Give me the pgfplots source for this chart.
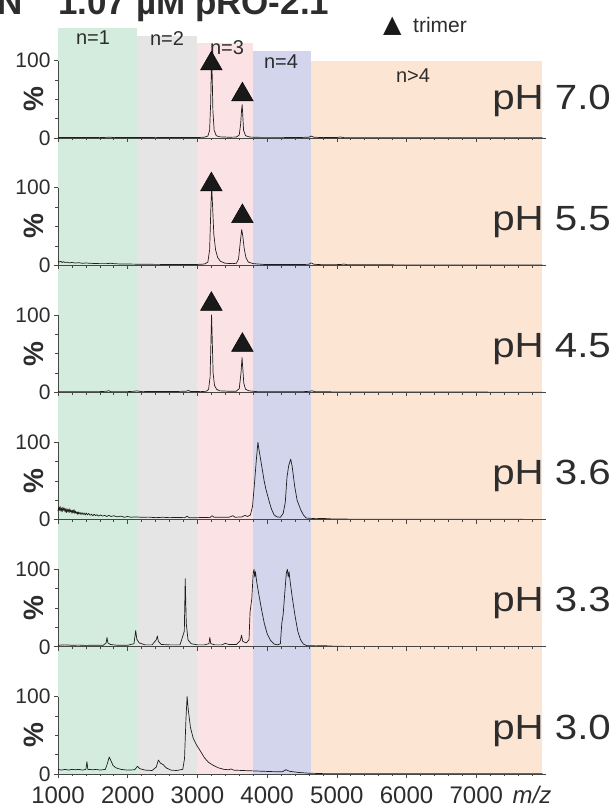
\documentclass[border=0pt]{standalone}
\usepackage{fontspec}
\setmainfont{Liberation Sans}
\newfontfamily\widefont{Liberation Sans}[FakeStretch=1.15]
\newfontfamily\dejavu{DejaVu Sans}
\usepackage{pgfplots}
\pgfplotsset{compat=1.18}
\definecolor{txt}{RGB}{45,45,45}
\definecolor{axcol}{RGB}{70,70,70}
\definecolor{spec}{RGB}{30,30,30}
\definecolor{bandgreen}{RGB}{211,236,222}
\definecolor{bandgray}{RGB}{229,229,229}
\definecolor{bandpink}{RGB}{251,226,229}
\definecolor{bandblue}{RGB}{211,213,236}
\definecolor{bandpeach}{RGB}{253,229,212}
\pgfplotsset{
 panel/.style={
  scale only axis, width=488pt, height=127.2pt,
  xmin=1000, xmax=8000, ymin=0, ymax=164.2,
  axis x line*=bottom, axis y line*=left,
  x axis line style={draw=axcol,-,line width=0.6pt}, y axis line style={draw=none},
  xtick={1000,2000,...,7000}, minor xtick={1200,1400,...,7800},
  ytick={0,100}, minor ytick={25,50,75},
  tick align=outside, major tick length=4pt, minor tick length=2.5pt,
  every tick/.style={axcol, line width=0.6pt},
  xticklabels={},
  yticklabel style={font=\fontsize{21}{21}\selectfont, text=txt},
  xticklabel style={font=\fontsize{24}{24}\selectfont, text=txt, yshift=-5pt},
  /pgf/number format/assume math mode=true,
  /pgf/number format/1000 sep={},
  clip=false, axis on top,
 },
 spectrum/.style={spec, line width=0.7pt, line join=round},
 trimark/.style={only marks, mark=triangle*, mark size=12.5pt, mark options={fill=black!90, draw=none}},
}
\newcommand{\bands}[5]{%
 \addplot[fill=bandgreen, draw=none] coordinates {(1000,#1)(2130,#1)} \closedcycle;
 \addplot[fill=bandgray, draw=none] coordinates {(2130,#2)(3000,#2)} \closedcycle;
 \addplot[fill=bandpink, draw=none] coordinates {(3000,#3)(3790,#3)} \closedcycle;
 \addplot[fill=bandblue, draw=none] coordinates {(3790,#4)(4630,#4)} \closedcycle;
 \addplot[fill=bandpeach, draw=none] coordinates {(4630,#5)(7940,#5)} \closedcycle;
 \addplot[axcol, line width=0.6pt] coordinates {(1000,0)(1000,100)};
 \node[rotate=90, font=\bfseries\fontsize{28}{28}\selectfont, text=txt] at ([xshift=-24pt]axis cs:1000,50) {\%};
}
\newcommand{\phlabel}[2]{\node[anchor=base west, inner sep=0pt, font=\widefont\fontsize{35}{35}\selectfont, text=txt] at (axis cs:7227,#1) {#2};}
\begin{document}
\begin{tikzpicture}
\path[use as bounding box] (0,0) rectangle (608pt,808pt);
% pH 3.0 (bottom)
\begin{axis}[panel, at={(58pt,34pt)}, anchor=south west,
  xticklabels={1000,2000,3000,4000,5000,6000,7000}]
\bands{164.2}{164.2}{164.2}{164.2}{164.2}
\addplot[spectrum] coordinates {(1000,6)(1050,5)(1100,6)(1150,5)(1200,6)(1250,5.5)(1300,6)(1350,5)(1400,6)(1415,16)(1428,6)(1500,5.5)(1550,6)(1600,5)(1680,6)(1710,14)(1735,22)(1760,17)(1790,11)(1830,8)(1900,6)(2000,5)(2100,5.5)(2140,10)(2170,7)(2250,5)(2350,4.5)(2410,9)(2440,18)(2470,14)(2510,12)(2550,8)(2620,5)(2700,4.5)(2790,6)(2815,20)(2835,70)(2852,100)(2870,82)(2900,60)(2940,46)(2990,37)(3040,30)(3100,21)(3160,15)(3230,11)(3300,8)(3380,6)(3450,5.5)(3480,6.5)(3520,5)(3650,4.5)(3800,4)(3950,3.5)(4100,3)(4220,3)(4270,5.5)(4320,3.5)(4450,2)(4600,1)(4800,0.5)(5500,0.4)(7950,0.3)};
\phlabel{45}{pH 3.0}
\node[anchor=base, font=\itshape\fontsize{24}{24}\selectfont, text=txt] at (axis cs:7800,0) [yshift=-29pt] {m/z};
\end{axis}
% pH 3.3
\begin{axis}[panel, at={(58pt,161.2pt)}, anchor=south west]
\bands{164.2}{164.2}{164.2}{164.2}{164.2}
\addplot[spectrum] coordinates {(1000,2)(1100,2.5)(1200,2)(1300,2.2)(1400,1.8)(1500,2)(1650,2)(1690,5)(1703,12)(1716,5)(1750,3)(1850,2)(2000,2)(2090,4)(2115,21)(2130,10)(2165,5)(2250,2.5)(2350,2.5)(2410,9)(2425,14)(2440,7)(2480,3)(2600,2.5)(2750,2.5)(2812,20)(2825,88)(2840,30)(2865,9)(2910,4)(3000,2.5)(3100,2.5)(3165,4)(3178,12)(3192,4)(3250,2.5)(3350,2.5)(3400,4.5)(3450,3)(3560,3)(3615,8)(3633,15)(3650,7)(3700,5)(3740,9)(3755,45)(3780,62)(3800,95)(3812,100)(3822,90)(3832,97)(3850,84)(3880,68)(3920,48)(3960,30)(4000,17)(4050,8)(4100,3.5)(4150,2.5)(4190,4)(4210,30)(4230,42)(4255,72)(4275,95)(4290,100)(4302,90)(4314,97)(4330,84)(4360,64)(4400,40)(4440,20)(4480,9)(4520,3.5)(4570,1.5)(4700,1.2)(4800,1.5)(5000,0.6)(6000,0.4)(7950,0.3)};
\phlabel{45}{pH 3.3}
\end{axis}
% pH 3.6
\begin{axis}[panel, at={(58pt,288.4pt)}, anchor=south west]
\bands{164.2}{164.2}{164.2}{164.2}{164.2}
\addplot[spectrum] coordinates {(1000,11)(1010,16)(1020,12)(1030,17)(1040,11)(1050,15)(1060,10)(1070,16)(1080,12)(1090,15)(1100,10)(1110,14)(1120,9)(1130,14)(1140,10)(1150,13)(1160,9)(1170,14)(1180,10)(1190,12)(1200,8)(1210,12)(1220,9)(1230,13)(1240,8)(1250,11)(1260,8)(1270,10)(1280,7)(1290,10)(1300,7)(1315,9.5)(1330,6.5)(1345,9)(1360,6.5)(1375,8.5)(1390,6)(1405,8.5)(1420,6)(1440,8)(1460,5.5)(1480,7)(1500,5)(1520,7)(1540,5)(1560,6.5)(1580,4.5)(1610,6)(1640,4.5)(1670,5.5)(1700,4)(1730,5.5)(1760,4)(1800,5)(1850,3.5)(1900,4.5)(1950,3)(2000,4)(2050,3)(2100,3.5)(2200,3)(2300,3.2)(2400,2.5)(2500,3)(2600,2.5)(2700,2.8)(2820,2.5)(2850,4.5)(2880,2.5)(3000,2.5)(3100,2.8)(3180,2.5)(3210,5)(3240,3)(3350,3)(3450,3)(3510,5)(3540,3)(3640,3.5)(3680,5.5)(3720,4)(3760,6)(3790,17)(3815,43)(3845,77)(3868,100)(3880,92)(3900,81)(3930,65)(3955,51)(3980,40)(4010,30)(4040,20)(4065,13)(4100,6)(4140,3.5)(4190,3)(4230,8)(4260,22)(4285,55)(4310,70)(4338,78)(4360,68)(4395,43)(4430,25)(4480,13)(4520,6)(4560,2)(4650,1.5)(4700,1.2)(4800,1.5)(4900,1)(5000,0.7)(5500,0.5)(6500,0.4)(7950,0.3)};
\phlabel{45}{pH 3.6}
\end{axis}
% pH 4.5
\begin{axis}[panel, at={(58pt,415.6pt)}, anchor=south west]
\bands{164.2}{164.2}{164.2}{164.2}{164.2}
\addplot[spectrum] coordinates {(1000,0.8)(1300,0.8)(1600,1)(1700,1.5)(1725,2.2)(1760,1)(2000,1)(2100,1.5)(2130,2)(2200,1)(2500,1.2)(2700,1.2)(2840,1.5)(2870,2.5)(2900,1.2)(3050,1)(3130,1.5)(3160,4)(3182,20)(3195,70)(3203,100)(3212,70)(3225,25)(3245,9)(3275,4)(3320,2)(3450,1.5)(3560,1.5)(3600,5)(3625,25)(3640,45)(3650,32)(3665,12)(3690,4)(3740,2)(3850,1)(4200,1)(4500,0.8)(4620,1.5)(4640,2.2)(4680,1)(5000,0.6)(6000,0.5)(7950,0.3)};
\addplot[trimark] coordinates {(3200,114)(3645,61)};
\phlabel{45}{pH 4.5}
\end{axis}
% pH 5.5
\begin{axis}[panel, at={(58pt,542.8pt)}, anchor=south west]
\bands{164.2}{164.2}{164.2}{164.2}{164.2}
\addplot[spectrum] coordinates {(1000,5.5)(1020,4)(1040,5)(1060,3.5)(1080,4.5)(1100,3.5)(1130,4)(1160,3)(1200,3.5)(1250,2.8)(1300,3.2)(1350,2.5)(1400,2.8)(1500,2.3)(1600,2)(1700,2)(1750,2.5)(1800,2)(1900,1.5)(2000,1.5)(2200,1.2)(2500,1)(2800,1)(3000,1)(3100,1.5)(3150,4)(3175,20)(3195,80)(3205,100)(3218,75)(3235,40)(3260,20)(3290,10)(3330,5)(3400,2.5)(3500,2)(3560,2.5)(3590,8)(3615,30)(3635,46)(3650,38)(3670,22)(3695,10)(3730,4)(3800,2)(3950,1)(4200,1)(4500,0.8)(4600,1.2)(4630,3)(4670,1.2)(4800,0.6)(5050,0.8)(5100,1.5)(5150,0.6)(6000,0.4)(7950,0.3)};
\addplot[trimark] coordinates {(3200,104)(3645,63)};
\phlabel{45}{pH 5.5}
\end{axis}
% pH 7.0 (top)
\begin{axis}[panel, at={(58pt,670pt)}, anchor=south west]
\bands{141.5}{132}{122}{112}{100}
\addplot[spectrum] coordinates {(1000,0.5)(1300,0.6)(1600,0.5)(1750,1)(1800,0.5)(2100,0.6)(2400,0.5)(2700,0.6)(3000,0.6)(3100,1)(3150,2.5)(3175,10)(3190,45)(3200,90)(3205,100)(3212,80)(3222,35)(3240,10)(3270,3)(3320,1.5)(3450,1)(3560,1.2)(3600,4)(3620,18)(3635,38)(3642,43)(3650,30)(3662,10)(3690,3)(3750,1.2)(3900,0.8)(4200,0.8)(4450,0.6)(4600,1)(4630,2.5)(4670,1)(4800,0.5)(5000,0.6)(5050,1.3)(5100,0.5)(5500,0.4)(6000,0.4)(7000,0.3)(7950,0.3)};
\addplot[trimark] coordinates {(3200,96)(3645,56)};
\phlabel{37}{pH 7.0}
\node[font=\fontsize{20}{20}\selectfont, text=txt] at (axis cs:1502,129) {n=1};
\node[font=\fontsize{20}{20}\selectfont, text=txt] at (axis cs:2564,128) {n=2};
\node[font=\fontsize{20}{20}\selectfont, text=txt] at (axis cs:3425,117) {n=3};
\node[font=\fontsize{20}{20}\selectfont, text=txt] at (axis cs:4200,98) {n=4};
\node[font=\fontsize{20}{20}\selectfont, text=txt] at (axis cs:6093,81) {n>4};
\end{axis}
% titles
\node[anchor=base west, inner sep=0pt, font=\bfseries\fontsize{35}{35}\selectfont, text=txt] at (-3pt,793pt) {N};
\node[anchor=base west, inner sep=0pt, font=\bfseries\fontsize{35}{35}\selectfont, text=txt] at (58pt,793pt) {1.07 µM pRO-2.1};
\node[anchor=base west, inner sep=0pt, font=\dejavu\fontsize{24}{24}\selectfont, text=black!90] at (383pt,775pt) {▲};
\node[anchor=base west, inner sep=0pt, font=\fontsize{21}{21}\selectfont, text=txt] at (413pt,775pt) {trimer};
\end{tikzpicture}
\end{document}
